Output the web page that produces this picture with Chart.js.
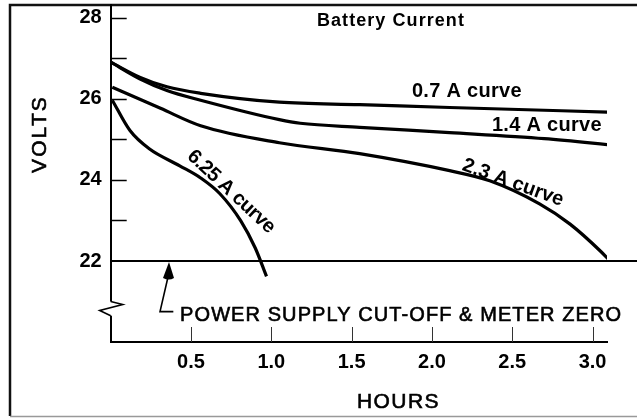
<!DOCTYPE html>
<html>
<head>
<meta charset="utf-8">
<script src="https://cdn.jsdelivr.net/npm/chart.js@4.4.1/dist/chart.umd.min.js"></script>
<style>
  html, body { margin: 0; padding: 0; background: #fff; overflow: hidden; }
</style>
</head>
<body>
<canvas id="chart" width="637" height="418"></canvas>
<script>
// discharge curves: hours vs volts
const hours07 = [0, 0.18, 0.35, 0.56, 1.05, 1.55, 2.11, 3.15];
const volts07 = [26.91, 26.54, 26.30, 26.14, 25.92, 25.86, 25.79, 25.67];

const hours14 = [0, 0.18, 0.35, 0.56, 1.05, 1.18, 1.55, 2.11, 2.7, 3.15];
const volts14 = [26.91, 26.50, 26.21, 25.97, 25.49, 25.40, 25.30, 25.17, 25.02, 24.85];

const hours23 = [0.01, 0.31, 0.56, 1.05, 1.55, 2.11, 2.36, 2.67, 2.86, 3.05, 3.14];
const volts23 = [26.29, 25.77, 25.34, 24.92, 24.65, 24.23, 23.98, 23.41, 22.91, 22.24, 21.87];

const hours625 = [0.01, 0.12, 0.24, 0.43, 0.56, 0.68, 0.81, 0.90, 0.97];
const volts625 = [25.97, 25.22, 24.77, 24.35, 24.05, 23.66, 22.99, 22.32, 21.62];

const xTickValues = [0.5, 1.0, 1.5, 2.0, 2.5, 3.0];
const yTickValues = [22, 24, 26, 28];
const yTickMarks = [23, 24, 25, 26, 27, 28];
const cutOffVolts = 22;

function toPoints(xs, ys) {
  return xs.map((x, i) => ({ x: x, y: ys[i] }));
}

function curve(label, xs, ys) {
  return {
    label: label,
    data: toPoints(xs, ys),
    borderColor: "#000",
    borderWidth: 3.2,
    pointRadius: 0,
    cubicInterpolationMode: "monotone",
    fill: false,
  };
}

// text placed on the chart (data coords)
const notes = [
  { text: "Battery Current", x: 1.745, y: 27.79, w: 148, font: "bold 18px 'Liberation Sans'", angle: 0 },
  { text: "0.7 A curve", x: 2.218, y: 26.04, w: 110, font: "bold 20px 'Liberation Sans'", angle: 0 },
  { text: "1.4 A curve", x: 2.716, y: 25.20, w: 110, font: "bold 20px 'Liberation Sans'", angle: 0 },
  { text: "2.3 A curve", x: 2.505, y: 23.93, w: 106, font: "bold 20px 'Liberation Sans'", angle: 20, mid: true },
  { text: "6.25 A curve", x: 0.749, y: 23.71, w: 112, font: "bold 20px 'Liberation Sans'", angle: 43, mid: true },
  { text: "POWER SUPPLY CUT-OFF & METER ZERO", x: 1.808, y: 20.51, w: 442, font: "20px 'Liberation Sans'", angle: 0, stroke: 0.6 },
];

function fitText(ctx, text, cx, cy, width, font, angle, mid, stroke) {
  ctx.save();
  ctx.translate(cx, cy);
  ctx.rotate((angle * Math.PI) / 180);
  ctx.font = font;
  ctx.letterSpacing = "0px";
  const w = ctx.measureText(text).width;
  ctx.letterSpacing = (width - w) / text.length + "px";
  ctx.textAlign = "left";
  ctx.textBaseline = mid ? "middle" : "alphabetic";
  ctx.fillStyle = "#000";
  ctx.fillText(text, -width / 2, 0);
  if (stroke) {
    ctx.strokeStyle = "#000";
    ctx.lineWidth = stroke;
    ctx.strokeText(text, -width / 2, 0);
  }
  ctx.restore();
}

function noPadding(s) {
  s.paddingTop = 0;
  s.paddingBottom = 0;
  s.paddingLeft = 0;
  s.paddingRight = 0;
}

const decor = {
  id: "decor",
  beforeDraw(chart) {
    const ctx = chart.ctx;
    ctx.save();
    ctx.fillStyle = "#fff";
    ctx.fillRect(0, 0, chart.width, chart.height);
    // frame
    ctx.strokeStyle = "#111";
    ctx.lineWidth = 2.5;
    ctx.beginPath();
    ctx.moveTo(chart.width, 5);
    ctx.lineTo(10, 5);
    ctx.lineTo(10, 416);
    ctx.stroke();
    ctx.strokeStyle = "#999";
    ctx.lineWidth = 1.5;
    ctx.beginPath();
    ctx.moveTo(10, 416.5);
    ctx.lineTo(chart.width, 416.5);
    ctx.stroke();
    ctx.restore();
  },
  afterDraw(chart) {
    const ctx = chart.ctx;
    const xs = chart.scales.x;
    const ys = chart.scales.y;
    const left = chart.chartArea.left;
    const bottom = chart.chartArea.bottom;
    ctx.save();
    ctx.strokeStyle = "#000";

    // inward tick marks
    ctx.lineWidth = 1.5;
    yTickMarks.forEach((v) => {
      const py = Math.round(ys.getPixelForValue(v)) + 0.5;
      ctx.beginPath();
      ctx.moveTo(left, py);
      ctx.lineTo(left + 16, py);
      ctx.stroke();
    });
    ctx.lineWidth = 1;
    ctx.strokeStyle = "#333";
    xTickValues.forEach((v) => {
      const px = Math.round(xs.getPixelForValue(v)) + 0.5;
      ctx.beginPath();
      ctx.moveTo(px, bottom);
      ctx.lineTo(px, bottom - 15);
      ctx.stroke();
    });

    // cut-off line
    ctx.strokeStyle = "#000";
    ctx.lineWidth = 1.8;
    const py22 = ys.getPixelForValue(cutOffVolts);
    ctx.beginPath();
    ctx.moveTo(left, py22);
    ctx.lineTo(chart.width, py22);
    ctx.stroke();

    // axis break
    const b1 = ys.getPixelForValue(21.0);
    const b2 = ys.getPixelForValue(20.65);
    ctx.fillStyle = "#fff";
    ctx.fillRect(left - 3, b1, 6, b2 - b1);
    ctx.lineWidth = 1.6;
    ctx.beginPath();
    ctx.moveTo(left, b1);
    ctx.lineTo(left + 12, b1 + 3);
    ctx.lineTo(left - 11, b1 + 9);
    ctx.lineTo(left, b2);
    ctx.stroke();

    // arrow to the cut-off line
    const ax = xs.getPixelForValue(0.363);
    const sx = xs.getPixelForValue(0.307);
    const ex = xs.getPixelForValue(0.39);
    const sy = ys.getPixelForValue(20.75);
    ctx.lineWidth = 1.6;
    ctx.beginPath();
    ctx.moveTo(ex, sy);
    ctx.lineTo(sx, sy);
    ctx.lineTo(ax - 1, py22 + 16);
    ctx.stroke();
    ctx.fillStyle = "#000";
    ctx.beginPath();
    ctx.moveTo(ax, py22 + 1);
    ctx.lineTo(ax + 5, py22 + 17);
    ctx.quadraticCurveTo(ax, py22 + 20, ax - 6, py22 + 17);
    ctx.closePath();
    ctx.fill();

    // notes
    notes.forEach((n) => {
      fitText(ctx, n.text, xs.getPixelForValue(n.x), ys.getPixelForValue(n.y), n.w, n.font, n.angle, n.mid, n.stroke);
    });

    // axis titles
    fitText(ctx, "HOURS", 398.5, 408, 83, "21px 'Liberation Sans'", 0, false, 0.6);
    ctx.save();
    ctx.translate(45.5, 134);
    ctx.rotate(-Math.PI / 2);
    fitText(ctx, "VOLTS", 0, 0, 78, "21px 'Liberation Sans'", 0, false, 0.6);
    ctx.restore();

    ctx.restore();
  },
};

new Chart("chart", {
  type: "line",
  data: {
    datasets: [
      curve("0.7 A", hours07, volts07),
      curve("1.4 A", hours14, volts14),
      curve("2.3 A", hours23, volts23),
      curve("6.25 A", hours625, volts625),
    ],
  },
  options: {
    responsive: false,
    animation: false,
    layout: { padding: { left: 0, top: 5, right: 30, bottom: 0 } },
    plugins: {
      legend: { display: false },
      tooltip: { enabled: false },
    },
    scales: {
      x: {
        type: "linear",
        min: 0,
        max: 3.09,
        grid: { display: false, drawTicks: false },
        border: { display: true, color: "#000", width: 2 },
        afterBuildTicks: (s) => {
          s.ticks = xTickValues.map((v) => ({ value: v }));
        },
        afterFit: (s) => {
          s.height = 76;
          noPadding(s);
        },
        ticks: {
          color: "#000",
          padding: 8,
          maxRotation: 0,
          font: { family: "'Liberation Sans'", size: 20, weight: "bold" },
          callback: (v) => v.toFixed(1),
        },
      },
      y: {
        type: "linear",
        min: 20,
        max: 28.32,
        grid: { display: false, drawTicks: false },
        border: { display: true, color: "#000", width: 2 },
        afterBuildTicks: (s) => {
          s.ticks = yTickValues.map((v) => ({ value: v }));
        },
        afterFit: (s) => {
          s.width = 110.7;
          noPadding(s);
        },
        ticks: {
          color: "#000",
          padding: 9,
          font: { family: "'Liberation Sans'", size: 20, weight: "bold" },
        },
      },
    },
  },
  plugins: [decor],
});
</script>
</body>
</html>
